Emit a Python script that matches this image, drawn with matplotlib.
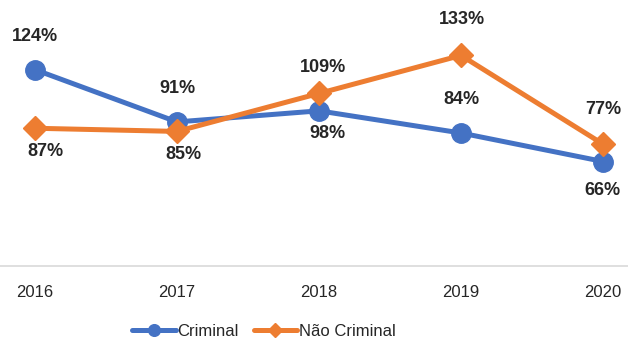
import matplotlib
matplotlib.use("Agg")
import matplotlib.pyplot as plt

anos = ["2016", "2017", "2018", "2019", "2020"]
criminal = [124, 91, 98, 84, 66]
nao_criminal = [87, 85, 109, 133, 77]

# deslocamento dos rótulos em pixels (dx, dy; dy + acima / - abaixo)
off_criminal = [(0, 33), (0, 33), (8, -23), (0, 34), (-1, -29)]
off_nao = [(10, -23), (6, -23), (4, 26), (1, 36), (0, 35)]

plt.rcParams['font.family'] = ['Liberation Sans', 'DejaVu Sans']

azul = "#4472C4"
laranja = "#ED7D31"
texto = "#262626"

fig = plt.figure(figsize=(6.28, 3.42), dpi=100)
ax = fig.add_axes([0, 76 / 342, 1, 266 / 342])

x = list(range(len(anos)))
ax.plot(x, criminal, color=azul, lw=3.6, marker="o", ms=14,
        solid_capstyle="round", label="Criminal", zorder=3)
ax.plot(x, nao_criminal, color=laranja, lw=3.6, marker="D", ms=12,
        solid_capstyle="round", label="Não Criminal", zorder=4)

for i in x:
    dx, dy = off_criminal[i]
    ax.annotate(f"{criminal[i]}%", (i, criminal[i]), xytext=(dx * 0.72, dy * 0.72),
                textcoords="offset points", ha="center", va="center",
                fontsize=13, fontweight="bold", color=texto)
    dx, dy = off_nao[i]
    ax.annotate(f"{nao_criminal[i]}%", (i, nao_criminal[i]), xytext=(dx * 0.72, dy * 0.72),
                textcoords="offset points", ha="center", va="center",
                fontsize=13, fontweight="bold", color=texto)

ax.set_xlim(-35 / 142, 4 + 25 / 142)
ax.set_ylim(0, 168)
ax.set_xticks(x)
ax.set_xticklabels(anos, fontsize=12, color=texto)
ax.set_yticks([])
ax.tick_params(axis="x", length=0, pad=14)
for s in ["top", "left", "right"]:
    ax.spines[s].set_visible(False)
ax.spines["bottom"].set_color("#D9D9D9")
ax.spines["bottom"].set_linewidth(1.2)

leg = fig.legend(loc="center", bbox_to_anchor=(264 / 628, 1 - 331 / 342), ncol=2,
                 frameon=False, fontsize=12, handlelength=2.6, handletextpad=0.1,
                 columnspacing=0.9, markerscale=0.6)
for t in leg.get_texts():
    t.set_color(texto)

fig.savefig("out.png", dpi=100)
